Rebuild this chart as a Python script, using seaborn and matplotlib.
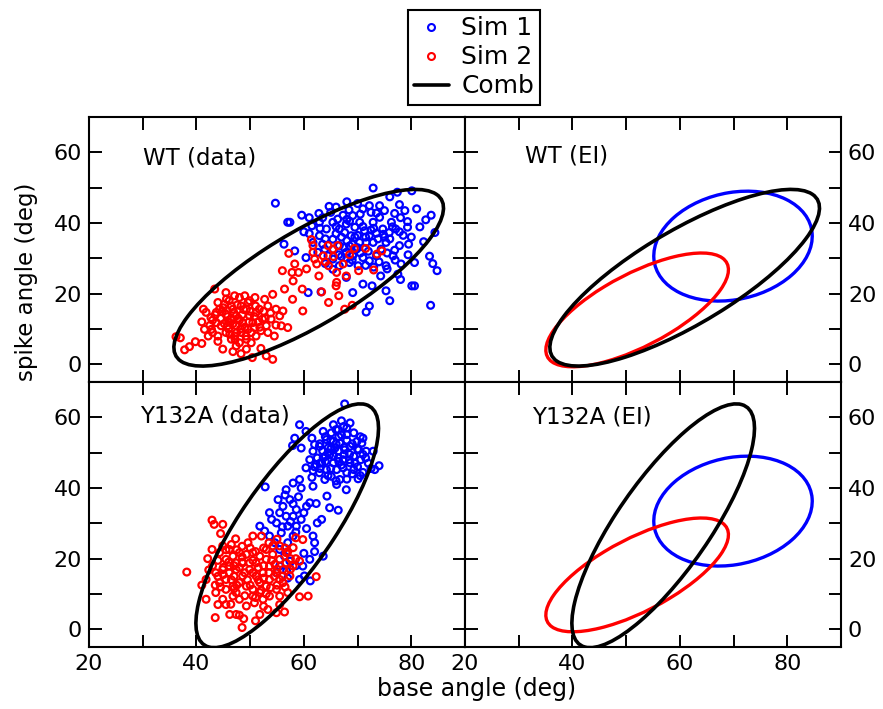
import numpy as np
import seaborn as sns
import matplotlib.pyplot as plt
from matplotlib.patches import Ellipse
from matplotlib.lines import Line2D
from matplotlib.ticker import MultipleLocator

# WT (data), Sim 1 points (base angle, spike angle)
wt_sim1_x = [54.7, 57.0, 57.4, 59.6, 62.8, 64.7, 68.4, 72.9, 76.0, 77.4, 80.1, 77.8, 78.8, 76.9, 79.3,
             79.3, 81.6, 82.7, 83.7, 84.4, 82.3, 83.4, 84.0, 84.8, 80.6, 80.1, 80.6, 83.6, 76.0, 75.3,
             77.5, 78.1, 79.4, 76.9, 75.3, 74.3, 72.7, 71.0, 72.2, 71.6, 69.1, 67.9, 60.8, 63.2, 56.3,
             58.3, 60.4, 61.5, 62.9, 64.2, 65.4, 66.3, 67.3, 69.1, 70.4, 71.3, 72.2, 73.5, 74.7, 75.9,
             77.1, 65.4, 66.6, 67.9, 69.1, 69.8, 71.0, 72.2, 73.5, 74.4, 71.6, 70.4, 68.8, 67.6, 69.5,
             72.9, 74.1, 76.3, 62.9, 61.7, 63.9, 65.4, 66.6, 68.5, 70.1, 65.4, 64.5, 62.6, 71.0, 74.1,
             72.2, 67.9, 66.6, 72.9, 75.3, 76.6, 77.8, 68.0, 69.0, 70.0, 71.5, 73.0, 67.0, 66.0, 68.5,
             70.5, 73.5, 75.0, 76.0, 78.5, 80.0, 72.0, 70.5, 68.0, 66.5, 64.0, 63.0, 61.0, 67.5, 74.0,
             77.0, 75.5, 63.5, 65.0, 66.0, 68.0, 69.5, 71.0, 72.5, 73.8, 74.8, 76.5, 77.8, 79.5, 70.0,
             68.5, 67.0, 65.5, 64.0, 69.0, 71.5, 73.0, 75.5, 78.0, 70.0, 68.0, 66.0, 61.0, 60.0, 63.5,
             72.5, 75.0, 78.0, 81.0]
wt_sim1_y = [45.6, 40.2, 40.2, 42.2, 42.7, 44.7, 43.7, 49.9, 47.4, 48.7, 49.1, 45.2, 43.5, 42.7, 40.4,
             38.8, 38.9, 40.9, 42.2, 37.3, 34.7, 30.6, 28.5, 26.5, 28.8, 22.2, 22.2, 16.7, 18.0, 20.8,
             25.5, 28.4, 31.0, 32.3, 27.9, 25.0, 22.2, 22.7, 16.5, 14.8, 20.3, 24.6, 20.3, 20.5, 34.0,
             32.1, 30.2, 39.2, 40.2, 38.3, 40.2, 41.1, 42.2, 42.1, 40.2, 37.8, 36.4, 37.1, 38.3, 37.3,
             38.3, 35.4, 33.6, 31.7, 30.7, 32.6, 30.2, 29.3, 30.7, 32.6, 34.5, 34.5, 36.4, 37.3, 38.8,
             40.2, 41.6, 40.2, 36.4, 34.5, 32.6, 29.8, 27.9, 28.8, 27.9, 26.9, 30.7, 31.7, 44.0, 44.9,
             44.9, 39.7, 38.3, 34.5, 34.5, 30.7, 33.6, 35.0, 34.0, 36.5, 36.0, 38.5, 36.0, 37.0, 40.5,
             42.5, 42.8, 36.0, 35.5, 36.5, 36.0, 32.0, 31.5, 30.0, 31.0, 35.5, 38.5, 37.0, 33.0, 29.0,
             29.5, 31.5, 41.5, 43.0, 39.0, 41.0, 36.0, 39.0, 38.0, 35.5, 36.8, 38.9, 37.5, 34.0, 33.0,
             33.5, 30.5, 32.5, 28.5, 29.5, 28.0, 27.5, 27.0, 24.0, 45.5, 46.0, 44.5, 41.5, 37.5, 34.0,
             43.0, 43.5, 41.5, 44.0]

# WT (data), Sim 2 points
wt_sim2_x = [36.2, 37.0, 37.8, 38.7, 39.8, 41.0, 41.3, 43.4, 45.5, 44.9, 46.8, 48.3, 50.4, 52.0, 54.2,
             53.0, 54.8, 57.0, 56.1, 57.9, 59.8, 59.7, 56.4, 56.0, 57.2, 57.8, 59.0, 58.0, 58.3, 61.4,
             61.7, 62.0, 63.6, 64.5, 65.4, 66.3, 64.6, 66.1, 67.3, 67.9, 69.4, 71.5, 70.2, 66.0, 66.5,
             64.6, 63.3, 67.6, 69.0, 73.0, 73.6, 74.5, 66.1, 62.4, 61.7,
             41.8, 42.7, 43.7, 44.3, 45.2, 46.1, 47.1, 48.0, 49.0, 49.9, 50.9, 51.7, 52.7, 53.3, 54.2,
             54.8, 55.5, 53.9, 53.0, 52.0, 51.1, 50.2, 49.3, 48.3, 47.4, 46.5, 45.5, 44.6, 45.5, 46.5,
             47.4, 49.3, 44.0, 42.8, 42.2, 47.4, 48.6, 49.9, 50.5, 49.3, 48.3, 46.8, 51.1, 52.3, 48.0,
             45.8, 49.6, 50.8, 43.7, 47.1, 41.5, 53.3, 54.5, 55.8, 46.0, 47.0, 48.0, 46.5, 44.5, 45.0,
             48.5, 49.0, 47.5, 50.0, 51.5, 43.0, 46.0, 44.0, 52.5,
             42.5, 43.5, 44.8, 45.8, 46.8, 47.8, 48.8, 49.8, 50.8, 51.8, 52.8, 53.8, 45.2, 46.2, 47.2,
             48.2, 49.2, 50.2, 44.0, 43.0, 41.0, 47.6, 49.6, 51.0, 45.6, 60.5, 62.8, 64.0, 65.5, 68.5]
wt_sim2_y = [7.8, 7.5, 4.1, 5.0, 6.4, 5.9, 15.6, 21.3, 20.3, 4.3, 3.6, 3.0, 1.9, 4.5, 1.4,
             2.4, 11.1, 10.4, 15.1, 18.4, 15.1, 21.3, 21.3, 26.5, 31.4, 26.0, 26.0, 23.6, 28.4, 35.3,
             31.7, 29.8, 30.7, 33.6, 32.6, 33.6, 27.9, 26.0, 28.4, 25.0, 32.8, 32.8, 26.5, 22.2, 19.4,
             17.5, 20.5, 15.6, 16.7, 26.7, 31.2, 32.1, 23.2, 28.4, 33.6,
             14.7, 13.2, 11.8, 15.6, 17.0, 18.0, 19.4, 18.9, 19.4, 18.0, 18.9, 15.6, 18.4, 16.5, 19.8,
             15.6, 13.7, 12.8, 10.9, 9.5, 8.0, 6.1, 7.1, 9.0, 10.9, 12.8, 14.2, 10.9, 9.0, 7.1,
             5.2, 4.3, 8.0, 9.9, 8.0, 13.7, 11.8, 13.7, 11.8, 15.6, 16.5, 15.6, 14.7, 12.8, 6.1,
             10.9, 9.9, 10.4, 14.7, 8.0, 9.9, 9.0, 8.0, 10.9, 12.0, 14.5, 12.5, 16.5, 13.0, 16.0,
             14.0, 10.5, 9.0, 15.0, 12.0, 12.5, 10.0, 17.5, 15.0,
             11.0, 14.0, 15.0, 13.5, 11.5, 13.0, 15.5, 12.0, 13.5, 10.5, 13.0, 14.5, 11.5, 8.5, 7.0,
             10.0, 8.0, 9.0, 6.5, 9.0, 12.0, 16.8, 17.5, 16.5, 18.5, 27.0, 25.0, 29.0, 30.5, 31.0]

# Y132A (data), Sim 1 points
y132a_sim1_x = [67.6, 59.2, 60.4, 58.3, 57.9, 59.5, 61.5, 68.6, 71.0, 71.6, 72.9, 73.2, 74.0, 71.0, 70.1,
                67.9, 66.4, 64.8, 64.3, 63.3, 62.5, 61.7, 63.6, 62.0, 61.1, 59.8, 61.2, 59.2, 60.1, 52.8,
                53.6, 51.8, 52.7, 53.6, 54.6, 55.5, 56.4, 57.4, 55.5, 54.9, 56.8, 58.0, 57.0, 58.6, 59.5,
                60.5, 61.1, 62.3, 58.6, 57.4, 56.1, 55.2, 55.5, 56.7, 58.0, 56.7, 57.0, 54.9, 55.8, 54.0,
                58.0, 59.2, 59.5, 61.7,
                61.7, 61.1, 60.4, 62.3, 62.9, 63.9, 64.2, 63.6, 62.9, 64.2, 65.1, 65.5, 66.4, 67.4, 68.0,
                69.3, 69.9, 70.2, 69.3, 68.6, 68.0, 66.7, 66.1, 65.5, 64.8, 65.8, 66.7, 67.6, 68.6, 67.3,
                66.4, 65.5, 64.5, 61.7, 66.1, 69.3, 70.6, 67.3, 65.1, 63.3, 62.0, 70.8, 67.0, 63.6,
                64.5, 65.5, 66.5, 67.5, 68.5, 66.0, 64.0, 67.0, 69.5, 70.0, 63.5, 65.0, 68.0, 62.5, 66.5,
                71.5, 63.0, 69.0,
                63.0, 64.0, 65.0, 66.0, 67.0, 68.0, 69.0, 70.5, 71.0, 72.0, 70.0, 68.5, 67.5, 66.5, 65.0,
                64.0, 63.0, 62.0, 61.5, 64.5, 66.0, 68.0, 70.5, 72.5, 56.5, 58.0, 59.0, 60.0, 57.5, 56.0,
                58.5, 60.5, 62.0, 60.0, 58.5, 57.0]
y132a_sim1_y = [63.8, 57.9, 56.0, 54.1, 52.0, 51.3, 54.1, 58.4, 54.1, 50.4, 50.4, 45.2, 46.3, 44.4, 42.6,
                39.5, 33.7, 34.4, 37.7, 31.1, 30.1, 26.4, 20.7, 24.5, 19.8, 17.9, 13.7, 14.1, 15.1, 40.3,
                33.0, 29.2, 27.8, 26.4, 24.5, 22.6, 20.7, 19.3, 17.9, 16.0, 16.5, 26.4, 24.5, 29.2, 31.1,
                34.8, 35.8, 35.6, 33.9, 36.7, 34.8, 36.7, 33.0, 32.0, 32.0, 39.5, 29.2, 30.1, 27.3, 31.1,
                41.4, 42.4, 40.0, 40.5,
                50.4, 48.0, 45.7, 46.6, 44.3, 42.4, 45.2, 48.5, 51.8, 53.7, 55.6, 57.9, 56.5, 57.4, 55.1,
                55.6, 53.2, 50.8, 49.0, 47.1, 44.3, 42.4, 45.2, 47.1, 49.4, 51.3, 52.7, 50.8, 51.8, 48.0,
                48.5, 53.2, 51.3, 44.9, 41.0, 45.2, 48.0, 45.7, 43.3, 47.1, 52.3, 52.7, 59.0, 56.0,
                50.0, 49.0, 50.5, 51.5, 49.5, 52.5, 47.5, 46.5, 47.0, 51.0, 50.5, 45.5, 53.5, 48.5, 54.5,
                48.5, 45.5, 44.0,
                52.5, 54.5, 53.5, 56.5, 55.0, 57.0, 52.5, 54.5, 49.5, 47.0, 46.0, 48.0, 49.5, 47.5, 51.0,
                49.0, 47.0, 46.0, 43.0, 43.5, 42.0, 42.5, 43.5, 45.5, 38.0, 35.5, 37.5, 33.0, 30.5, 29.0,
                27.5, 28.5, 22.0, 21.5, 18.0, 14.5]

# Y132A (data), Sim 2 points
y132a_sim2_x = [38.2, 42.9, 43.3, 44.9, 44.5, 42.1, 42.3, 41.0, 41.8, 44.0, 43.5, 46.2, 48.5, 47.4, 48.8,
                51.0, 51.8, 53.3, 54.9, 56.4, 59.2, 60.8, 62.3, 59.2, 58.0, 59.8, 58.5, 47.3, 50.5, 52.1,
                49.6, 42.9, 41.8,
                44.3, 45.5, 46.8, 48.0, 49.3, 50.5, 51.8, 53.0, 54.2, 55.5, 56.7, 58.0, 57.4, 56.1, 54.9,
                53.6, 52.4, 50.8, 49.3, 48.0, 46.8, 45.5, 44.3, 43.6, 44.9, 46.1, 47.4, 48.6, 49.9, 51.1,
                52.4, 53.6, 54.9, 55.5, 53.0, 51.8, 50.5, 49.3, 48.0, 46.8, 45.5, 48.6, 49.9, 51.1, 47.4,
                46.1, 53.6, 54.6, 56.1, 56.7, 55.5, 54.2, 53.0, 46.1, 44.9, 43.6, 44.9, 46.4, 50.5, 51.8,
                55.5, 57.0, 53.8, 47.4,
                47.0, 48.0, 49.5, 50.5, 51.5, 52.5, 53.5, 55.0, 45.0, 46.0, 48.5, 50.0, 52.0, 47.0, 44.5,
                54.0, 56.0, 57.5,
                43.0, 44.0, 45.5, 46.5, 47.5, 48.5, 50.0, 51.0, 52.5, 53.5, 55.0, 56.5, 57.0, 58.5, 57.5,
                56.5, 55.0, 53.0, 51.0, 49.0, 47.5, 46.5, 45.0, 44.0, 43.5, 48.5, 50.5, 52.5, 54.5, 51.5,
                49.0, 47.0, 45.5, 48.0, 52.5, 55.5]
y132a_sim2_y = [16.2, 30.9, 29.7, 29.7, 27.1, 20.0, 16.8, 12.5, 8.5, 7.0, 3.3, 4.2, 0.5, 4.2, 3.0,
                2.4, 4.2, 5.6, 4.7, 4.9, 9.2, 9.4, 14.9, 19.3, 23.1, 25.4, 25.9, 25.6, 26.4, 26.4,
                24.5, 22.6, 14.1,
                21.7, 19.8, 20.7, 21.7, 21.2, 21.7, 20.7, 19.8, 21.2, 19.8, 18.8, 17.9, 15.1, 13.2, 11.3,
                9.4, 8.5, 7.5, 6.6, 8.5, 9.4, 11.3, 13.2, 16.0, 16.9, 16.0, 16.9, 15.1, 16.9, 15.1,
                16.0, 14.1, 16.0, 14.1, 12.2, 13.2, 11.3, 12.2, 13.2, 12.2, 14.1, 18.8, 18.8, 18.8, 18.8,
                17.9, 17.9, 18.4, 16.9, 21.7, 23.6, 23.6, 22.6, 22.6, 23.6, 10.4, 8.5, 7.1, 9.4, 10.4,
                9.4, 10.4, 11.8, 10.4,
                15.0, 17.5, 14.0, 16.0, 17.5, 14.5, 16.0, 17.0, 15.5, 19.0, 20.5, 12.5, 11.0, 11.5, 12.0,
                19.5, 15.0, 20.0,
                18.0, 19.5, 22.5, 24.0, 22.5, 23.5, 23.0, 22.0, 23.0, 24.5, 25.5, 23.0, 22.0, 20.0, 17.0,
                12.0, 12.5, 10.0, 9.0, 9.5, 12.5, 14.0, 17.5, 15.0, 12.5, 19.0, 19.5, 18.0, 15.0, 14.0,
                16.0, 18.0, 7.0, 4.0, 6.5, 7.0]

# ellipses: centre x, centre y, x half-extent, y half-extent, correlation
sim1_ell = (69.9, 33.45, 14.75, 15.55, 0.18)
sim2_ell = (52.05, 15.4, 17.0, 16.1, 0.705)
wt_comb_ell = (60.9, 24.5, 25.1, 25.0, 0.79)
y132a_comb_ell = (56.9, 29.3, 17.0, 34.5, 0.80)

panel_titles = ["WT (data)", "WT (EI)", "Y132A (data)", "Y132A (EI)"]
title_pos = [(30.0, 58.5), (31.2, 58.9), (29.5, 60.3), (32.4, 60.1)]


def add_ellipse(ax, params, color, lw=2.4):
    cx, cy, sx, sy, r = params
    cov = np.array([[sx * sx, r * sx * sy], [r * sx * sy, sy * sy]])
    vals, vecs = np.linalg.eigh(cov)
    ang = np.degrees(np.arctan2(vecs[1, 1], vecs[0, 1]))
    e = Ellipse((cx, cy), 2 * np.sqrt(vals[1]), 2 * np.sqrt(vals[0]), angle=ang,
                fill=False, edgecolor=color, linewidth=lw, zorder=5)
    ax.add_patch(e)


sns.set_style("ticks")
plt.rcParams['font.family'] = ['DejaVu Sans']
plt.rcParams['text.color'] = 'black'
plt.rcParams['xtick.color'] = 'black'
plt.rcParams['ytick.color'] = 'black'
plt.rcParams['axes.labelcolor'] = 'black'

fig, axes = plt.subplots(2, 2, figsize=(8.83, 7.09), dpi=100, sharex=True, sharey=True)
fig.subplots_adjust(left=0.1008, right=0.9524, bottom=0.0875, top=0.835, wspace=0, hspace=0)

sc_kw = dict(marker='o', s=24, facecolor='none', linewidth=1.6, legend=False)

# data panels
sns.scatterplot(x=wt_sim1_x, y=wt_sim1_y, edgecolor='blue', ax=axes[0, 0], **sc_kw)
sns.scatterplot(x=wt_sim2_x, y=wt_sim2_y, edgecolor='red', ax=axes[0, 0], **sc_kw)
add_ellipse(axes[0, 0], wt_comb_ell, 'black', 2.6)

sns.scatterplot(x=y132a_sim1_x, y=y132a_sim1_y, edgecolor='blue', ax=axes[1, 0], **sc_kw)
sns.scatterplot(x=y132a_sim2_x, y=y132a_sim2_y, edgecolor='red', ax=axes[1, 0], **sc_kw)
add_ellipse(axes[1, 0], y132a_comb_ell, 'black', 2.6)

# EI panels
add_ellipse(axes[0, 1], sim1_ell, 'blue')
add_ellipse(axes[0, 1], sim2_ell, 'red')
add_ellipse(axes[0, 1], wt_comb_ell, 'black', 2.6)
add_ellipse(axes[1, 1], sim1_ell, 'blue')
add_ellipse(axes[1, 1], sim2_ell, 'red')
add_ellipse(axes[1, 1], y132a_comb_ell, 'black', 2.6)

for i, ax in enumerate(axes.flat):
    ax.set_xlim(20, 90)
    ax.set_ylim(-5, 70)
    ax.xaxis.set_major_locator(MultipleLocator(20))
    ax.xaxis.set_minor_locator(MultipleLocator(10))
    ax.yaxis.set_major_locator(MultipleLocator(20))
    ax.yaxis.set_minor_locator(MultipleLocator(10))
    ax.tick_params(which='both', direction='in', length=9, width=1.4, color='black',
                   top=True, bottom=True, left=True, right=True, labelsize=16, pad=5)
    for sp in ax.spines.values():
        sp.set_linewidth(1.5)
        sp.set_color('black')
    tx, ty = title_pos[i]
    ax.text(tx, ty, panel_titles[i], fontsize=16.5, ha='left', va='center')
    ax.set_xlabel('')
    ax.set_ylabel('')

for ax in axes[:, 1]:
    ax.tick_params(labelleft=False, labelright=True)
for ax in axes[1, :]:
    ax.tick_params(labelbottom=True)

fig.text(477 / 883, 1 - 689 / 709, 'base angle (deg)', fontsize=17, ha='center', va='center')
fig.text(27 / 883, 1 - 282 / 709, 'spike angle (deg)', fontsize=16.5, ha='center', va='center',
         rotation=90)

handles = [
    Line2D([], [], marker='o', ls='none', mfc='none', mec='blue', ms=5, mew=1.5),
    Line2D([], [], marker='o', ls='none', mfc='none', mec='red', ms=5, mew=1.5),
    Line2D([], [], color='black', lw=2.6),
]
leg = fig.legend(handles, ['Sim 1', 'Sim 2', 'Comb'], loc='upper center',
                 bbox_to_anchor=(474 / 883, 1 - 10 / 709), frameon=True, fancybox=False,
                 edgecolor='black', fontsize=18, handlelength=1.4, handletextpad=0.5,
                 labelspacing=0.2, borderpad=0.25, borderaxespad=0)
leg.get_frame().set_linewidth(1.5)
leg.get_frame().set_alpha(1)

fig.savefig('out.png', dpi=100)
